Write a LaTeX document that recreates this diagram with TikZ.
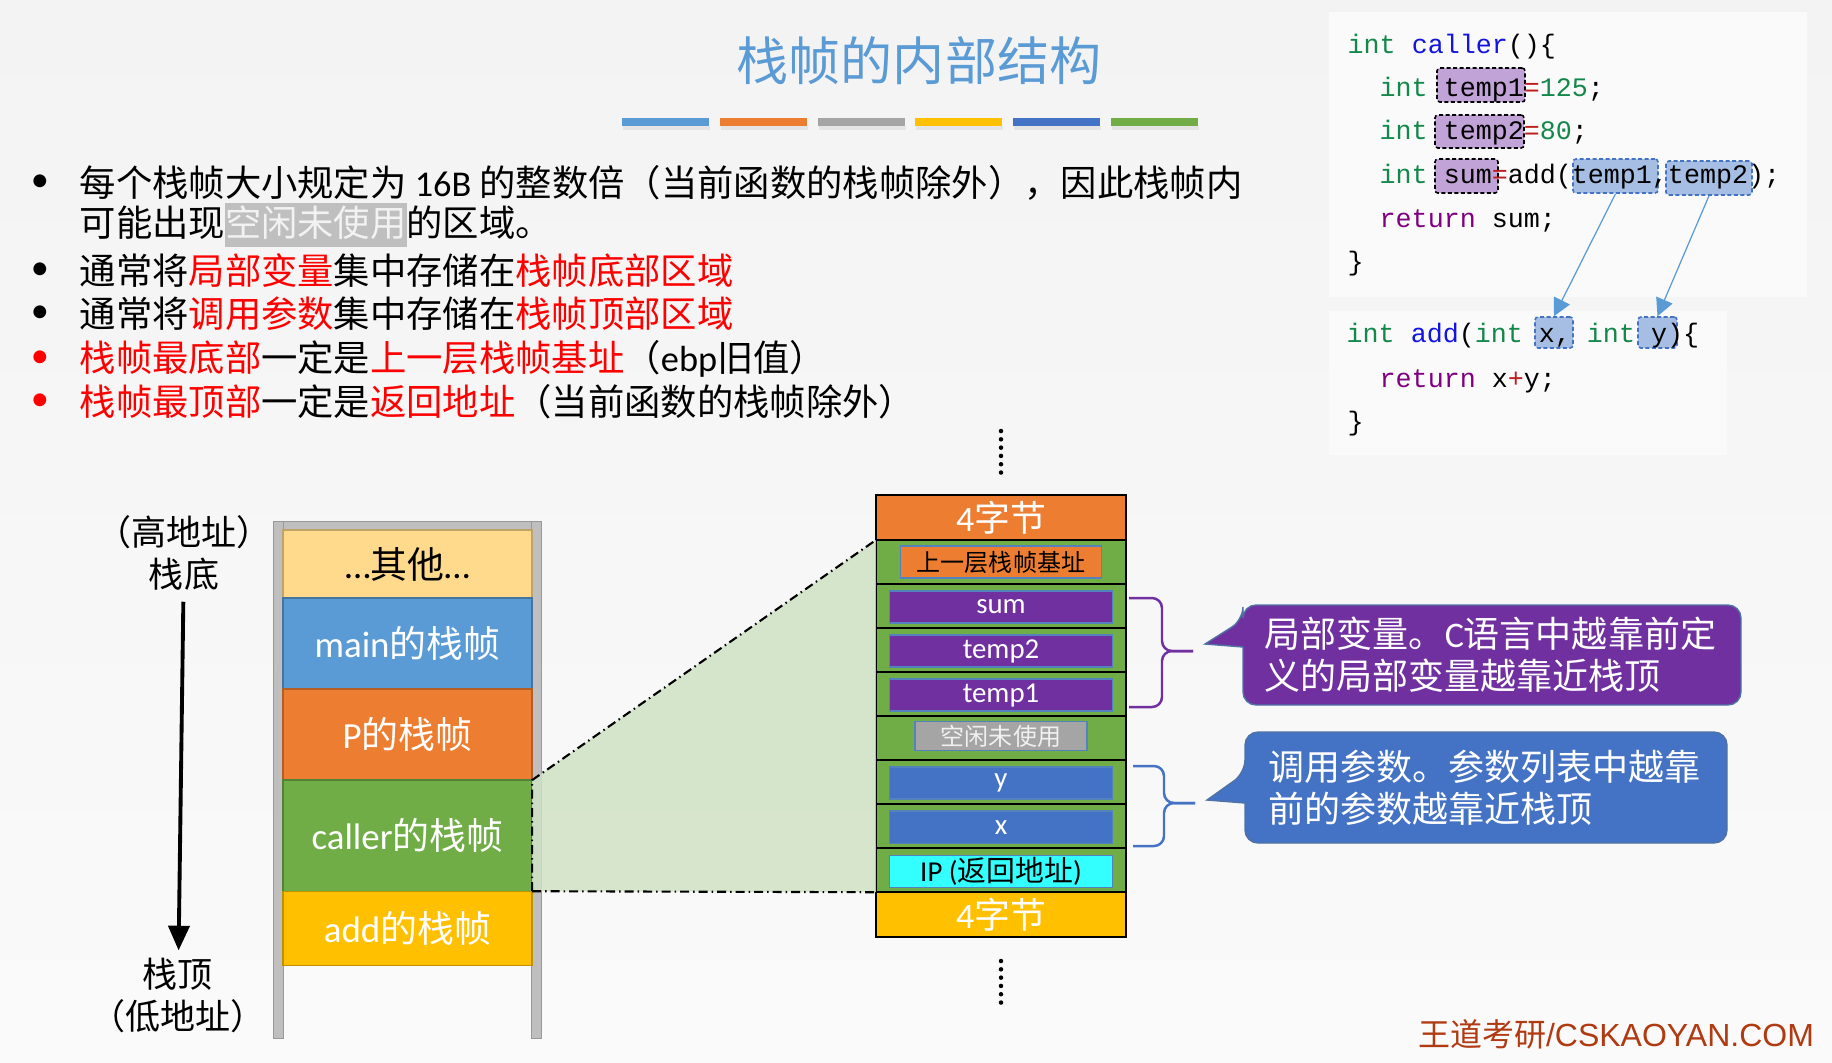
\documentclass[tikz,border=0pt]{standalone}
\usepackage{fontspec}
\setmainfont{Noto Sans CJK SC}
\newfontfamily\latin{Carlito}
\newfontfamily\codefont{Liberation Mono}
\newfontfamily\webfont{Liberation Sans}
\usetikzlibrary{positioning,arrows.meta}
\definecolor{pagebg}{RGB}{243,243,243}
\definecolor{codebg}{RGB}{250,250,250}
\definecolor{cblue}{RGB}{91,155,213}
\definecolor{corange}{RGB}{237,125,49}
\definecolor{cgray}{RGB}{165,165,165}
\definecolor{cyellow}{RGB}{255,192,0}
\definecolor{cdblue}{RGB}{68,114,196}
\definecolor{cgreen}{RGB}{112,173,71}
\definecolor{cpurple}{RGB}{112,48,160}
\definecolor{clight}{RGB}{255,217,140}
\definecolor{ccyan}{RGB}{51,255,255}
\definecolor{slotline}{RGB}{84,130,190}
\definecolor{zoomfill}{RGB}{208,226,197}
\definecolor{framegray}{RGB}{191,191,191}
\definecolor{hlgray}{RGB}{191,191,191}
\definecolor{hot}{RGB}{255,0,0}
\definecolor{kw}{RGB}{20,135,75}
\definecolor{fn}{RGB}{20,20,225}
\definecolor{rt}{RGB}{128,0,128}
\definecolor{op}{RGB}{190,30,30}
\definecolor{pvar}{RGB}{194,163,216}
\definecolor{bvar}{RGB}{167,190,228}
\definecolor{brand}{RGB}{176,58,18}
\definecolor{calline}{RGB}{80,115,165}

\begin{document}
\begin{tikzpicture}[x=0.01cm, y=-0.01cm,
    title/.style  ={inner sep=0pt, text=cblue, font=\fontsize{14.8}{16}\selectfont},
    line/.style   ={anchor=west, inner sep=0pt, font=\fontsize{10.33}{12}\selectfont},
    dotmark/.style={inner sep=0pt, font=\latin\fontsize{10.33}{12}\selectfont},
    tag/.style    ={align=center, inner sep=2pt, font=\fontsize{9.96}{11.95}\selectfont},
    frm/.style    ={draw=#1!75!black, fill=#1, line width=0.4pt, minimum width=2.49cm,
                    inner sep=0pt, outer sep=0pt, text=white, font=\fontsize{10.5}{12}\selectfont},
    cell/.style   ={draw=black, line width=0.6pt, fill=#1, minimum width=2.5cm, minimum height=0.45cm,
                    inner sep=0pt, outer sep=0pt, text=white, font=\fontsize{10.2}{11}\selectfont},
    row/.style    ={draw=black, line width=0.6pt, fill=cgreen, minimum width=2.5cm,
                    minimum height=0.44cm, inner sep=0pt, outer sep=0pt},
    slot/.style   ={draw=slotline, line width=0.4pt, fill=#1, minimum width=2.23cm, minimum height=0.32cm,
                    inner sep=0pt, text=white, font=\fontsize{8.2}{9}\selectfont},
    code/.style   ={anchor=west, inner sep=0pt, text height=1.9mm, text depth=0.5mm,
                    font=\codefont\fontsize{7.59}{9}\selectfont},
    pvarbox/.style={draw=black, fill=pvar, dash pattern=on 0.04cm off 0.025cm, line width=0.45pt,
                    rounded corners=0.03cm, inner sep=0pt, minimum height=0.34cm},
    bvarbox/.style={draw=cdblue, fill=bvar, dash pattern=on 0.04cm off 0.025cm, line width=0.45pt,
                    rounded corners=0.03cm, inner sep=0pt, minimum height=0.34cm},
    codearr/.style={-{Triangle[length=5pt,width=5pt]}, cblue, line width=0.35pt},
    bigarr/.style ={-{Triangle[length=7pt,width=6pt]}, line width=1.1pt, shorten <=1pt},
    zoomline/.style={line width=0.6pt, dash pattern=on 0.09cm off 0.04cm on 0.015cm off 0.04cm},
    vdots/.style  ={line width=0.045cm, line cap=round, dash pattern=on 0pt off 0.083cm},
    brace/.style  ={draw=#1, line width=0.7pt, rounded corners=0.1cm},
    callbox/.style={fill=#1, draw=calline, line width=0.4pt},
    ctext/.style  ={anchor=west, align=left, inner sep=0pt, text=white,
                    font=\fontsize{10.24}{11.95}\selectfont},
    webtag/.style ={inner sep=0pt, text=brand, font=\fontsize{9.1}{11}\selectfont}]
  \useasboundingbox (0,0) rectangle (1832,1062);
  \shade[top color=pagebg, bottom color=white!60!pagebg] (0,0) rectangle (1832,1062);

  % title and colour bars
  \node[title] (ttl) at (919,61) {栈帧的内部结构};
  \foreach \c [count=\i from 0] in {cblue,corange,cgray,cyellow,cdblue,cgreen} {
    \fill[black!10] (623+\i*97.8,126) rectangle ++(87,4);
    \fill[\c] (622+\i*97.8,118) rectangle ++(87,8);
  }

  % bullet list
  \node[dotmark] (d1) at (40,183) {•};
  \node[line] (l1) at (79,183) {每个栈帧大小规定为 {\latin 16B} 的整数倍（当前函数的栈帧除外），因此栈帧内};
  \node[line] (l2) at (79,225) {可能出现{\setlength{\fboxsep}{0pt}\colorbox{hlgray}{\rule[-0.29em]{0pt}{1.19em}\textcolor{white!95!black}{空闲未使用}}}的区域。};
  \node[dotmark] (d3) at (40,271) {•};
  \node[line] (l3) at (79,271) {通常将\textcolor{hot}{局部变量}集中存储在\textcolor{hot}{栈帧底部区域}};
  \node[dotmark] (d4) at (40,314) {•};
  \node[line] (l4) at (79,314) {通常将\textcolor{hot}{调用参数}集中存储在\textcolor{hot}{栈帧顶部区域}};
  \node[dotmark, text=hot] (d5) at (40,359) {•};
  \node[line] (l5) at (79,359) {\textcolor{hot}{栈帧最底部}一定是\textcolor{hot}{上一层栈帧基址}（{\latin ebp}旧值）};
  \node[dotmark, text=hot] (d6) at (40,402) {•};
  \node[line] (l6) at (79,402) {\textcolor{hot}{栈帧最顶部}一定是\textcolor{hot}{返回地址}（当前函数的栈帧除外）};

  % code
  \fill[codebg] (1329,12) rectangle (1807,297);
  \fill[codebg] (1329,311) rectangle (1727,455);
  \node[pvarbox, minimum width=0.88cm] (tmpa) at (1481,85) {};
  \node[pvarbox, minimum width=0.89cm, minimum height=0.33cm] (tmpb) at (1479.5,131.5) {};
  \node[pvarbox, minimum width=0.63cm] (sumv) at (1466.5,176) {};
  \node[bvarbox, minimum width=0.85cm] (arga) at (1615.5,176) {};
  \node[bvarbox, minimum width=0.86cm] (argb) at (1709,178) {};
  \node[bvarbox, minimum width=0.38cm, minimum height=0.31cm] (parx) at (1554,332.5) {};
  \node[bvarbox, minimum width=0.39cm, minimum height=0.31cm] (pary) at (1657.5,332.5) {};
  \node[code] (c1) at (1347,46) {\textcolor{kw}{int} \textcolor{fn}{caller}()\{};
  \node[code] (c2) at (1379,89) {\textcolor{kw}{int} temp1\textcolor{op}{=}\textcolor{kw}{125};};
  \node[code] (c3) at (1379,132) {\textcolor{kw}{int} temp2\textcolor{op}{=}\textcolor{kw}{80};};
  \node[code] (c4) at (1379,176) {\textcolor{kw}{int} sum\textcolor{op}{=}add(temp1,temp2);};
  \node[code] (c5) at (1379,220) {\textcolor{rt}{return} sum;};
  \node[code] (c6) at (1347,263) {\}};
  \node[code] (c7) at (1346,335) {\textcolor{kw}{int} \textcolor{fn}{add}(\textcolor{kw}{int} x, \textcolor{kw}{int} y)\{};
  \node[code] (c8) at (1379,380) {\textcolor{rt}{return} x\textcolor{op}{+}y;};
  \node[code] (c9) at (1347,423) {\}};
  \draw[codearr] (arga.south) -- (parx.north);
  \draw[codearr] (argb.south) -- (pary.north);

  % stack overview
  \fill[framegray, draw=framegray!80!black, line width=0.2pt] (273,521) rectangle (541,529);
  \fill[framegray, draw=framegray!80!black, line width=0.2pt] (273,521) rectangle (283,1038);
  \fill[framegray, draw=framegray!80!black, line width=0.2pt] (531,521) rectangle (541,1038);
  \node[frm=clight, minimum height=0.68cm, text=black] (other) at (407.5,564) {{\latin …}其他{\latin …}};
  \node[frm=cblue, minimum height=0.91cm, below=0pt of other] (mainf) {{\latin main}的栈帧};
  \node[frm=corange, minimum height=0.91cm, below=0pt of mainf] (pf) {{\latin P}的栈帧};
  \node[frm=cgreen, minimum height=1.11cm, below=0pt of pf] (caller) {{\latin caller}的栈帧};
  \node[frm=cyellow, minimum height=0.74cm, below=0pt of caller] (addf) {{\latin add}的栈帧};
  \node[tag] (hi) at (184,553) {（高地址）\\栈底};
  \node[tag] (lo) at (178,995.5) {栈顶\\（低地址）};
  \draw[bigarr] (hi) -- (lo);

  % caller frame in detail
  \node[cell=corange] (topb) at (1001,517.5) {{\latin 4}字节};
  \node[row, below=0pt of topb] (rbase) {};
  \node[row, below=0pt of rbase] (rsum) {};
  \node[row, below=0pt of rsum] (rtb) {};
  \node[row, below=0pt of rtb] (rta) {};
  \node[row, below=0pt of rta] (rfree) {};
  \node[row, below=0pt of rfree] (ry) {};
  \node[row, below=0pt of ry] (rx) {};
  \node[row, below=0pt of rx] (rip) {};
  \node[cell=cyellow, below=0pt of rip] (botb) {{\latin 4}字节};
  \node[slot=corange, minimum width=2.01cm, text=black, font=\fontsize{6.83}{8}\selectfont] (base) at (rbase) {上一层栈帧基址};
  \node[slot=cpurple] (sum) at ([yshift=-0.01cm]rsum) {{\latin sum}};
  \node[slot=cpurple] (tmb) at ([yshift=-0.01cm]rtb) {{\latin temp2}};
  \node[slot=cpurple] (tma) at ([yshift=-0.01cm]rta) {{\latin temp1}};
  \node[slot=cgray, minimum width=1.72cm, minimum height=0.29cm, text=white!94!black,
        font=\fontsize{6.83}{8}\selectfont] (free) at ([yshift=0.02cm]rfree) {空闲未使用};
  \node[slot=cdblue] (y) at ([yshift=-0.01cm]ry) {{\latin y}};
  \node[slot=cdblue] (x) at ([yshift=-0.01cm]rx) {{\latin x}};
  \node[slot=ccyan, text=black] (ip) at ([yshift=-0.01cm]rip) {{\latin IP (}返回地址{\latin )}};
  \draw[vdots] (1001,431) -- (1001,474);
  \draw[vdots] (1001,961) -- (1001,1004);

  % zoom wedge
  \fill[zoomfill, fill opacity=0.85] (caller.north east) -- (rbase.north west)
        -- (rip.south west) -- (caller.south east) -- cycle;
  \draw[zoomline] (caller.south east) -- (caller.north east) -- (rbase.north west);
  \draw[zoomline] (caller.south east) -- (rip.south west);

  % braces and callouts
  \draw[brace=cpurple] (1129,598) -| (1162,651) -- (1193,651);
  \draw[brace=cpurple] (1193,651) -- (1162,651) |- (1129,707);
  \draw[brace=cdblue] (1133,766) -| (1164,803) -- (1195,803);
  \draw[brace=cdblue] (1195,803) -- (1164,803) |- (1133,846);
  \draw[callbox=cpurple] (1205,644) -- (1243,647) [rounded corners=0.13cm] -- (1243,705) -- (1741,705)
        -- (1741,605) -- (1243,605) -- (1243,620) [sharp corners] -- cycle;
  \node[ctext] (lv) at (1264,655) {局部变量。{\latin C}语言中越靠前定\\义的局部变量越靠近栈顶};
  \draw[callbox=cdblue] (1207,800) -- (1245,803) [rounded corners=0.13cm] -- (1245,843) -- (1727,843)
        -- (1727,732) -- (1245,732) -- (1245,773) [sharp corners] -- cycle;
  \node[ctext] (pa) at (1268,788) {调用参数。参数列表中越靠\\前的参数越靠近栈顶};

  \node[webtag] (web) at (1616,1034) {王道考研{\webfont /CSKAOYAN.COM}};
\end{tikzpicture}
\end{document}
